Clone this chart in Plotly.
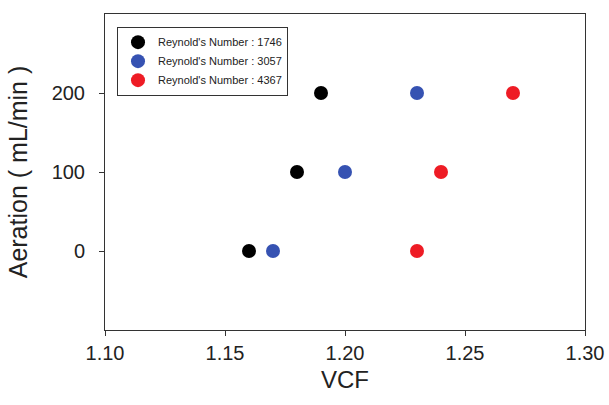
import plotly.graph_objects as go

series_names = ["Reynold's Number : 1746", "Reynold's Number : 3057", "Reynold's Number : 4367"]
vcf_1746 = [1.16, 1.18, 1.19]
vcf_3057 = [1.17, 1.20, 1.23]
vcf_4367 = [1.23, 1.24, 1.27]
aeration = [0, 100, 200]
x_ticks = [1.10, 1.15, 1.20, 1.25, 1.30]
x_ticktext = ["1.10", "1.15", "1.20", "1.25", "1.30"]
y_ticks = [0, 100, 200]
colors = ["#000000", "#3652b2", "#ee1c25"]

fig = go.Figure()
for name, xs, c in zip(series_names, [vcf_1746, vcf_3057, vcf_4367], colors):
    fig.add_trace(go.Scatter(x=xs, y=aeration, mode="markers", name=name,
                             marker=dict(size=14, color=c, line=dict(width=0))))

axis_common = dict(showline=True, linecolor="#333333", linewidth=1, mirror=True,
                   ticks="outside", ticklen=5, tickcolor="#333333", showgrid=False,
                   zeroline=False, automargin=False,
                   tickfont=dict(size=20, color="#222222"))
fig.update_xaxes(range=[1.10, 1.30], tickvals=x_ticks, ticktext=x_ticktext,
                 title=dict(text="VCF", font=dict(size=24, color="#222222"), standoff=8),
                 **axis_common)
fig.update_yaxes(range=[-100, 300], tickvals=y_ticks, ticklabelstandoff=10,
                 title=dict(text="Aeration ( mL/min )", font=dict(size=25, color="#222222"), standoff=16),
                 **axis_common)
fig.update_layout(
    width=609, height=405,
    margin=dict(l=105, r=24, t=14, b=75),
    paper_bgcolor="white", plot_bgcolor="white",
    font=dict(family="Liberation Sans, Arial, sans-serif", color="#222222"),
    showlegend=True,
    legend=dict(x=0.025, y=0.96, xanchor="left", yanchor="top",
                bordercolor="#333333", borderwidth=1, bgcolor="white",
                font=dict(size=11, color="#222222"), itemwidth=30,
                tracegroupgap=0),
)
fig.write_html("out.html", config={"displayModeBar": False},
               post_script="document.body.style.margin='0';document.body.style.overflow='hidden';")
